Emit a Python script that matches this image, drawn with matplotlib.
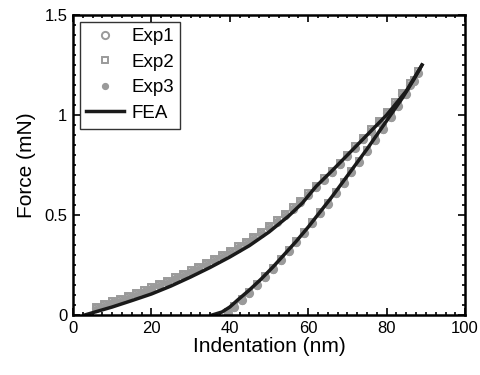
import matplotlib
matplotlib.use("Agg")
import matplotlib.pyplot as plt
from matplotlib.ticker import MultipleLocator

plt.rcParams['font.family'] = ['Liberation Sans', 'DejaVu Sans']

# FEA curves
fea_load_x = [3, 10, 15, 20, 25, 30, 35, 40, 45, 50, 55, 58.5, 62, 66, 70, 75, 80, 85, 89]
fea_load_f = [0.0, 0.04, 0.072, 0.105, 0.145, 0.19, 0.238, 0.29, 0.347, 0.415, 0.495, 0.56, 0.643, 0.72, 0.8, 0.9, 1.0, 1.12, 1.25]
fea_unload_x = [89, 87, 84, 81, 78, 75, 72, 69, 66, 63, 60, 57, 54, 51, 48, 45, 42, 40, 38, 35.5]
fea_unload_f = [1.25, 1.18, 1.085, 1.0, 0.915, 0.83, 0.75, 0.67, 0.59, 0.515, 0.44, 0.37, 0.305, 0.24, 0.18, 0.125, 0.075, 0.04, 0.015, 0.0]

# Experimental data: loading branch then unloading branch
exp_x = [6, 8, 10, 12, 14, 16, 18, 20, 22, 24, 26, 28, 30, 32, 34, 36, 38, 40, 42, 44,
         46, 48, 50, 52, 54, 56, 58, 60, 62, 64, 66, 68, 70, 72, 74, 76, 78, 80, 82, 84,
         86, 88,
         87, 85, 83, 81, 79, 77, 75, 73, 71, 69, 67, 65, 63, 61, 59, 57, 55, 53, 51, 49,
         47, 45, 43, 41, 39.5]
exp1_f = [0.033, 0.048, 0.061, 0.075, 0.089, 0.103, 0.117, 0.132, 0.148, 0.164, 0.181, 0.199, 0.217, 0.235, 0.254, 0.273, 0.293, 0.314, 0.336, 0.359,
          0.384, 0.41, 0.438, 0.467, 0.498, 0.531, 0.565, 0.601, 0.638, 0.676, 0.714, 0.754, 0.795, 0.836, 0.878, 0.921, 0.965, 1.01, 1.056, 1.103,
          1.151, 1.212,
          1.168, 1.105, 1.045, 0.988, 0.932, 0.877, 0.82, 0.766, 0.713, 0.66, 0.608, 0.557, 0.508, 0.458, 0.41, 0.364, 0.318, 0.274, 0.232, 0.19,
          0.15, 0.112, 0.075, 0.04, 0.012]
exp2_f = [0.04, 0.055, 0.068, 0.082, 0.096, 0.11, 0.124, 0.139, 0.155, 0.171, 0.188, 0.206, 0.224, 0.242, 0.261, 0.28, 0.3, 0.321, 0.343, 0.366,
          0.391, 0.417, 0.445, 0.474, 0.505, 0.538, 0.572, 0.608, 0.645, 0.683, 0.721, 0.761, 0.802, 0.843, 0.885, 0.928, 0.972, 1.017, 1.063, 1.11,
          1.158, 1.22,
          1.173, 1.11, 1.05, 0.993, 0.937, 0.882, 0.826, 0.772, 0.718, 0.665, 0.613, 0.562, 0.513, 0.463, 0.415, 0.369, 0.323, 0.279, 0.237, 0.195,
          0.155, 0.117, 0.08, 0.045, 0.016]
exp3_f = [0.03, 0.045, 0.058, 0.072, 0.086, 0.1, 0.114, 0.129, 0.145, 0.161, 0.178, 0.196, 0.214, 0.232, 0.251, 0.27, 0.29, 0.311, 0.333, 0.356,
          0.381, 0.407, 0.435, 0.464, 0.495, 0.528, 0.562, 0.598, 0.635, 0.673, 0.711, 0.751, 0.792, 0.833, 0.875, 0.918, 0.962, 1.007, 1.053, 1.1,
          1.148, 1.208,
          1.163, 1.1, 1.04, 0.983, 0.927, 0.872, 0.815, 0.761, 0.708, 0.655, 0.603, 0.552, 0.503, 0.453, 0.405, 0.359, 0.313, 0.269, 0.227, 0.185,
          0.145, 0.107, 0.07, 0.035, 0.008]

x_ticks = [0, 20, 40, 60, 80, 100]
y_ticks = [0, 0.5, 1, 1.5]
y_labels = ['0', '0.5', '1', '1.5']

fig = plt.figure(figsize=(4.8, 3.75), dpi=100)
ax = fig.add_axes([0.152, 0.16, 0.817, 0.8])

gray = '#9a9a9a'
ax.plot(exp_x, exp1_f, linestyle='none', marker='o', markersize=5.2,
        markerfacecolor='none', markeredgecolor=gray, markeredgewidth=1.4, label='Exp1')
ax.plot(exp_x, exp2_f, linestyle='none', marker='s', markersize=4.8,
        markerfacecolor='none', markeredgecolor=gray, markeredgewidth=1.4, label='Exp2')
ax.plot(exp_x, exp3_f, linestyle='none', marker='o', markersize=4.2,
        markerfacecolor=gray, markeredgecolor=gray, label='Exp3')
ax.plot(fea_load_x, fea_load_f, color='#1a1a1a', linewidth=2.5, label='FEA')
ax.plot(fea_unload_x, fea_unload_f, color='#1a1a1a', linewidth=2.5)

ax.set_xlim(0, 100)
ax.set_ylim(0, 1.5)
ax.set_xticks(x_ticks)
ax.set_yticks(y_ticks)
ax.set_yticklabels(y_labels)
ax.xaxis.set_minor_locator(MultipleLocator(2.5))
ax.yaxis.set_minor_locator(MultipleLocator(0.05))
ax.tick_params(which='both', direction='in', top=True, right=True, labelsize=12, width=1.2, pad=4)
ax.tick_params(which='major', length=5)
ax.tick_params(which='minor', length=2.5)
for s in ax.spines.values():
    s.set_linewidth(1.8)

ax.set_xlabel('Indentation (nm)', fontsize=15, labelpad=1)
ax.set_ylabel('Force (mN)', fontsize=15, labelpad=6)

leg = ax.legend(loc='upper left', fontsize=13.5, frameon=True, fancybox=False,
                edgecolor='black', handlelength=2.0, borderaxespad=0.35,
                labelspacing=0.45, handletextpad=0.4, borderpad=0.35)
leg.get_frame().set_linewidth(1.0)

fig.savefig('out.png', dpi=100)
